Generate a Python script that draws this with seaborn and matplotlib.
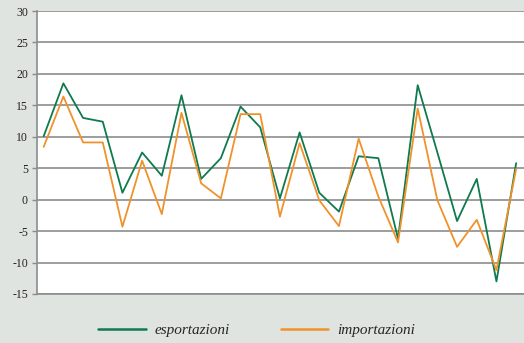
import matplotlib
matplotlib.use("Agg")
import matplotlib.pyplot as plt
import pandas as pd
import seaborn as sns

# valori (variazioni %)
periodi = list(range(1, 26))
esportazioni = [10.1, 18.5, 13.0, 12.4, 1.1, 7.5, 3.8, 16.6, 3.3, 6.6,
                14.8, 11.5, 0.2, 10.7, 1.1, -1.9, 6.9, 6.6, -6.2, 18.2,
                7.5, -3.4, 3.3, -13.0, 5.8]
importazioni = [8.4, 16.4, 9.1, 9.1, -4.3, 6.2, -2.3, 13.8, 2.6, 0.2,
                13.6, 13.6, -2.7, 9.0, -0.1, -4.2, 9.7, 0.5, -6.8, 14.5,
                -0.1, -7.5, -3.2, -11.2, 4.9]
y_ticks = [-15, -10, -5, 0, 5, 10, 15, 20, 25, 30]

df = pd.DataFrame({
    "periodo": periodi * 2,
    "valore": esportazioni + importazioni,
    "serie": ["esportazioni"] * len(periodi) + ["importazioni"] * len(periodi),
})

sfondo = "#dfe4e0"
grigio = "#8c8c8c"
colori = {"esportazioni": "#0f7a4e", "importazioni": "#f0922c"}

sns.set_style("white")
plt.rcParams["font.family"] = ["Liberation Serif", "DejaVu Serif"]

fig = plt.figure(figsize=(5.24, 3.43), dpi=100, facecolor=sfondo)
ax = fig.add_axes([37 / 524, 49 / 343, 487 / 524, 283 / 343])
ax.set_facecolor("white")

sns.lineplot(data=df, x="periodo", y="valore", hue="serie", palette=colori,
             linewidth=1.3, ax=ax, legend=False)

ax.set_xlim(periodi[0] - 0.34, periodi[-1] + 0.4)
ax.set_ylim(-15, 30)
ax.set_yticks(y_ticks)
ax.set_yticklabels([str(t) for t in y_ticks], fontsize=8.5, color="#222222")
ax.set_xticks([])
ax.set_xlabel("")
ax.set_ylabel("")

for t in y_ticks:
    ax.axhline(t, color=grigio, linewidth=1.2, zorder=0)

for s in ["top", "right"]:
    ax.spines[s].set_visible(False)
for s in ["bottom", "left"]:
    ax.spines[s].set_color(grigio)
    ax.spines[s].set_linewidth(1.2)

ax.tick_params(axis="y", left=True, length=3.5, width=1, color=grigio, pad=3)

handles = [plt.Line2D([], [], color=colori[k], linewidth=1.8) for k in colori]
fig.legend(handles, list(colori), loc="center", bbox_to_anchor=(0.49, 13 / 343),
           ncol=2, frameon=False, handlelength=3.1, handletextpad=0.6,
           columnspacing=3.3,
           prop={"family": ["Liberation Serif"], "style": "italic", "size": 11})

fig.savefig("out.png", dpi=100, facecolor=sfondo)
